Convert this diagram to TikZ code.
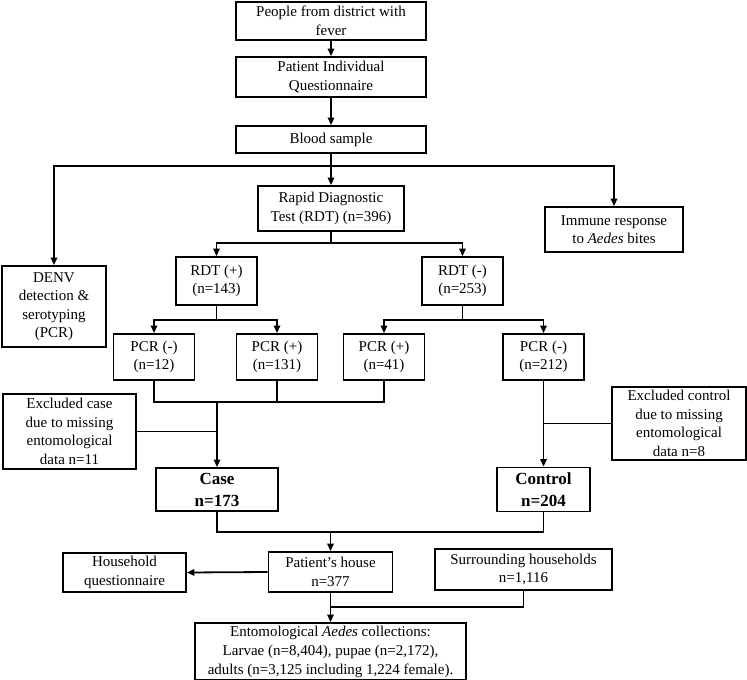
\documentclass[tikz,border=0pt]{standalone}
\usepackage{fontspec}
\setmainfont{Liberation Serif}
\usetikzlibrary{arrows.meta}
\tikzset{
  box/.style={draw, line width=1.9pt, inner sep=0pt, align=center, fill=white,
    font=\fontsize{15}{18.5}\selectfont},
  boldbox/.style={box, font=\fontsize{17}{22}\selectfont\bfseries},
  conn/.style={line width=1.8pt},
  arr/.style={conn, -{Triangle[length=7.5pt,width=6.5pt]}},
}
\begin{document}
\begin{tikzpicture}[x=1pt,y=-1pt]
\useasboundingbox (0,0) rectangle (747,680);
% nodes
\node[box, minimum width=190pt, minimum height=38pt] (top) at (331,21) {People from district with\\fever};
\node[box, minimum width=190pt, minimum height=40pt] (piq) at (331,77) {Patient Individual\\Questionnaire};
\node[box, minimum width=190pt, minimum height=27pt] (blood) at (331,139.5) {Blood sample};
\node[box, minimum width=146pt, minimum height=45pt] (rdt) at (331,208.5) {Rapid Diagnostic\\Test (RDT) (n=396)};
\node[box, minimum width=138pt, minimum height=45pt] (imm) at (614,229.5) {Immune response\\to \textit{Aedes} bites};
\node[box, minimum width=104pt, minimum height=81pt] (denv) at (54,306.5) {DENV\\detection \&\\serotyping\\(PCR)};
\node[box, minimum width=81pt, minimum height=48pt] (rdtp) at (216.5,281) {RDT (+)\\(n=143)};
\node[box, minimum width=81pt, minimum height=48pt] (rdtm) at (462.5,281) {RDT (-)\\(n=253)};
\node[box, minimum width=81pt, minimum height=46pt] (pcra) at (154,357) {PCR (-)\\(n=12)};
\node[box, minimum width=81pt, minimum height=46pt] (pcrb) at (277,357) {PCR (+)\\(n=131)};
\node[box, minimum width=81pt, minimum height=46pt] (pcrc) at (384,357) {PCR (+)\\(n=41)};
\node[box, minimum width=81pt, minimum height=46pt] (pcrd) at (543.5,357) {PCR (-)\\(n=212)};
\node[box, minimum width=133pt, minimum height=75pt] (exca) at (69.5,431.5) {Excluded case\\due to missing\\entomological\\data n=11};
\node[box, minimum width=134pt, minimum height=73pt] (exco) at (679,423.5) {Excluded control\\due to missing\\entomological\\data n=8};
\node[boldbox, minimum width=122pt, minimum height=43pt] (case) at (217,489.5) {Case\\n=173};
\node[boldbox, minimum width=93pt, minimum height=44pt] (ctrl) at (543.5,489.5) {Control\\n=204};
\node[box, minimum width=124pt, minimum height=40pt] (house) at (330.5,572) {Patient’s house\\n=377};
\node[box, minimum width=123pt, minimum height=39pt] (hq) at (124.5,572.5) {Household\\questionnaire};
\node[box, minimum width=177pt, minimum height=41pt] (surr) at (523.5,569.5) {Surrounding households\\n=1,116};
\node[box, minimum width=271pt, minimum height=57pt, font=\fontsize{15}{19}\selectfont] (ento) at (330.5,651.5) {Entomological \textit{Aedes} collections:\\Larvae (n=8,404), pupae (n=2,172),\\adults (n=3,125 including 1,224 female).};
% junction coordinates
\coordinate (j1) at (331,166);
\coordinate (j2) at (331,243);
\coordinate (j3) at (216.5,320);
\coordinate (j4) at (462.5,320);
\coordinate (j5) at (217,402);
\coordinate (j6) at (330.5,532);
\coordinate (j7) at (330.5,607);
% connectors
\draw[arr] (top) -- (piq);
\draw[arr] (piq) -- (blood);
\draw[conn] (blood.south) -- (j1);
\draw[arr] (j1) -- (rdt.north);
\draw[arr] (j1) -| (denv.north);
\draw[arr] (j1) -| (imm.north);
\draw[conn] (rdt.south) -- (j2);
\draw[arr] (j2) -| (rdtp.north);
\draw[arr] (j2) -| (rdtm.north);
\draw[conn] (rdtp.south) -- (j3);
\draw[arr] (j3) -| (pcra.north);
\draw[arr] (j3) -| (pcrb.north);
\draw[conn] (rdtm.south) -- (j4);
\draw[arr] (j4) -| (pcrc.north);
\draw[arr] (j4) -| (pcrd.north);
\draw[conn] (pcra.south) -- (pcra.south |- j5) -- (pcrc.south |- j5) -- (pcrc.south);
\draw[conn] (pcrb.south) -- (pcrb.south |- j5);
\draw[arr] (j5) -- (case.north);
\draw[conn] (exca.east) -- (exca.east -| case.north);
\draw[arr] (pcrd.south) -- (ctrl.north);
\draw[conn] (exco.west) -- (exco.west -| ctrl.north);
\draw[conn] (case.south) |- (j6) -| (ctrl.south);
\draw[arr] (j6) -- (house.north);
\draw[arr] (house.west) -- (hq.east);
\draw[arr] (house.south) -- (ento.north);
\draw[conn] (surr.south) |- (j7);
\end{tikzpicture}
\end{document}
